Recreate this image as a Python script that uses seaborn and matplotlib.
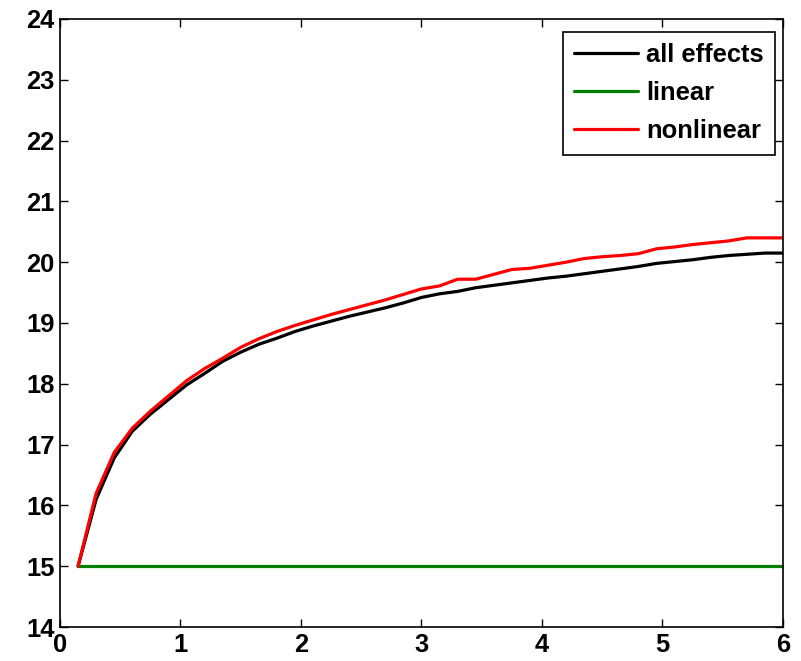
import matplotlib
matplotlib.use("Agg")
import matplotlib.pyplot as plt
import seaborn as sns
import pandas as pd

x_vals = [0.15, 0.30, 0.45, 0.60, 0.75, 0.90, 1.05, 1.20, 1.35, 1.50,
          1.65, 1.80, 1.95, 2.10, 2.25, 2.40, 2.55, 2.70, 2.85, 3.00,
          3.15, 3.30, 3.45, 3.60, 3.75, 3.90, 4.05, 4.20, 4.35, 4.50,
          4.65, 4.80, 4.95, 5.10, 5.25, 5.40, 5.55, 5.70, 5.85, 6.00]

all_effects = [15.00, 16.10, 16.78, 17.22, 17.50, 17.74, 17.98, 18.17, 18.37, 18.52,
               18.65, 18.75, 18.86, 18.95, 19.03, 19.11, 19.18, 19.25, 19.33, 19.42,
               19.48, 19.52, 19.58, 19.62, 19.66, 19.70, 19.74, 19.77, 19.81, 19.85,
               19.89, 19.93, 19.98, 20.01, 20.04, 20.08, 20.11, 20.13, 20.15, 20.15]

linear = [15.00] * len(x_vals)

nonlinear = [15.00, 16.20, 16.87, 17.27, 17.55, 17.80, 18.05, 18.25, 18.42, 18.60,
             18.74, 18.86, 18.96, 19.05, 19.14, 19.22, 19.30, 19.38, 19.47, 19.56,
             19.61, 19.72, 19.72, 19.80, 19.88, 19.90, 19.95, 20.00, 20.06, 20.09,
             20.11, 20.14, 20.22, 20.25, 20.29, 20.32, 20.35, 20.40, 20.40, 20.40]

series_names = ["all effects", "linear", "nonlinear"]
series_colors = ["#000000", "#008000", "#ff0000"]
x_ticks = [0, 1, 2, 3, 4, 5, 6]
y_ticks = [14, 15, 16, 17, 18, 19, 20, 21, 22, 23, 24]

frames = []
for name, vals in zip(series_names, [all_effects, linear, nonlinear]):
    frames.append(pd.DataFrame({"x": x_vals, "y": vals, "series": name}))
df = pd.concat(frames, ignore_index=True)

sns.set_theme(style="white")
plt.rcParams["font.family"] = ["Liberation Sans", "DejaVu Sans"]
plt.rcParams["font.weight"] = "bold"
plt.rcParams["text.color"] = "black"

fig = plt.figure(figsize=(8.01, 6.61), dpi=100)
ax = fig.add_axes([0.0749, 0.0514, 0.9775 - 0.0749, 0.9713 - 0.0514])

sns.lineplot(data=df, x="x", y="y", hue="series", hue_order=series_names,
             palette=dict(zip(series_names, series_colors)), linewidth=2.3,
             ax=ax, sort=False, estimator=None)

ax.set_xlim(0, 6)
ax.set_ylim(14, 24)
ax.set_xticks(x_ticks)
ax.set_yticks(y_ticks)
ax.set_xticklabels([str(t) for t in x_ticks], fontsize=18.4, fontweight="bold")
ax.set_yticklabels([str(t) for t in y_ticks], fontsize=18.4, fontweight="bold")
ax.set_xlabel("")
ax.set_ylabel("")
ax.tick_params(axis="both", which="major", direction="in", length=6, width=1,
               color="black", top=True, right=True, bottom=True, left=True,
               pad=4, labelcolor="black")
for s in ax.spines.values():
    s.set_color("black")
    s.set_linewidth(1.2)
    s.set_visible(True)

leg = ax.legend(loc="upper right", bbox_to_anchor=(0.989, 0.979), frameon=True,
                fancybox=False, shadow=False, framealpha=1, edgecolor="black",
                prop={"size": 18.4, "weight": "bold"}, handlelength=2.5,
                handletextpad=0.3, labelspacing=0.55, borderpad=0.45,
                borderaxespad=0.0)
leg.get_frame().set_linewidth(1.2)
for text in leg.get_texts():
    text.set_color("black")
for line in leg.get_lines():
    line.set_linewidth(2.3)

fig.savefig("out.png", dpi=100)
